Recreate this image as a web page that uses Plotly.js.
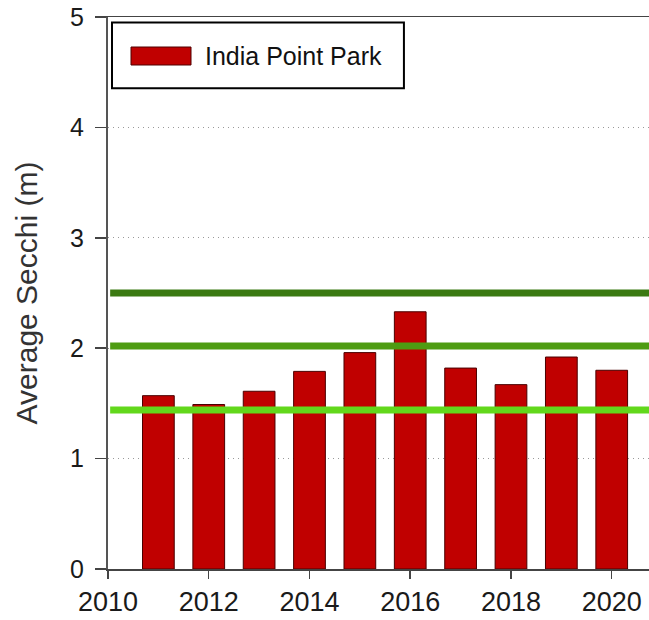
<!DOCTYPE html>
<html>
<head>
<meta charset="utf-8">
<script src="https://cdn.plot.ly/plotly-3.0.1.min.js"></script>
<style>html,body{margin:0;padding:0;background:#fff;}#chart{width:649px;height:620px;}</style>
</head>
<body>
<div id="chart"></div>
<script>
const years = [2011, 2012, 2013, 2014, 2015, 2016, 2017, 2018, 2019, 2020];
const secchi = [1.57, 1.49, 1.61, 1.79, 1.96, 2.33, 1.82, 1.67, 1.92, 1.80];
const seriesName = "India Point Park";
const thresholds = [2.5, 2.02, 1.44];
const thresholdColors = ["#3b7a12", "#4e9c12", "#62d81c"];
const xTicks = [2010, 2012, 2014, 2016, 2018, 2020];
const yTicks = [0, 1, 2, 3, 4, 5];

const font = "Liberation Sans, Arial, sans-serif";

const shapes = thresholds.map((v, i) => ({
  type: "line", xref: "paper", yref: "y", x0: 0.004, x1: 1, y0: v, y1: v,
  line: {color: thresholdColors[i], width: 7}, layer: "above"
}));
// legend box
shapes.push({type: "rect", xref: "paper", yref: "paper", x0: 0.0074, x1: 0.547, y0: 0.871, y1: 0.990,
  line: {color: "#000", width: 2}, fillcolor: "rgba(255,255,255,1)", layer: "above"});
shapes.push({type: "rect", xref: "paper", yref: "paper", x0: (131-108)/541, x1: (191-108)/541, y0: (569-65)/552, y1: (569-47)/552,
  line: {color: "#500000", width: 1}, fillcolor: "#c00000", layer: "above"});

const data = [{
  type: "bar", x: years, y: secchi, name: seriesName, width: 0.63,
  marker: {color: "#c00000", line: {color: "#4a0000", width: 1}},
  showlegend: false
}];

const layout = {
  width: 649, height: 620,
  margin: {l: 108, r: 0, t: 17, b: 51},
  paper_bgcolor: "#fff", plot_bgcolor: "#fff",
  font: {family: font, color: "#222", size: 25},
  xaxis: {
    range: [2010, 2020.74], tickvals: xTicks, ticktext: xTicks.map(String),
    showline: true, linecolor: "#444", linewidth: 1.5, mirror: true,
    ticks: "outside", ticklen: 8, tickcolor: "#444", tickwidth: 1.5,
    showgrid: false, zeroline: false, tickfont: {size: 27, color: "#1a1a1a"}
  },
  yaxis: {
    range: [0, 5], tickvals: yTicks, ticktext: yTicks.map(String),
    showline: true, linecolor: "#555", linewidth: 2,
    ticks: "outside", ticklen: 11, tickcolor: "#444", tickwidth: 1.5,
    ticklabelstandoff: 6,
    showgrid: true, gridcolor: "#999", gridwidth: 1.2, griddash: "1px,4px",
    zeroline: false, tickfont: {size: 25, color: "#1a1a1a"},
    title: {text: "Average Secchi (m)", font: {size: 30, color: "#333"}, standoff: 24}
  },
  shapes: shapes,
  annotations: [{
    xref: "paper", yref: "paper", x: (203-108)/541, y: (569-56)/552,
    xanchor: "left", yanchor: "middle", text: seriesName, showarrow: false,
    font: {size: 25, color: "#111", family: font}
  }],
  bargap: 0.37
};

Plotly.newPlot("chart", data, layout, {displayModeBar: false, staticPlot: true});
</script>
</body>
</html>
